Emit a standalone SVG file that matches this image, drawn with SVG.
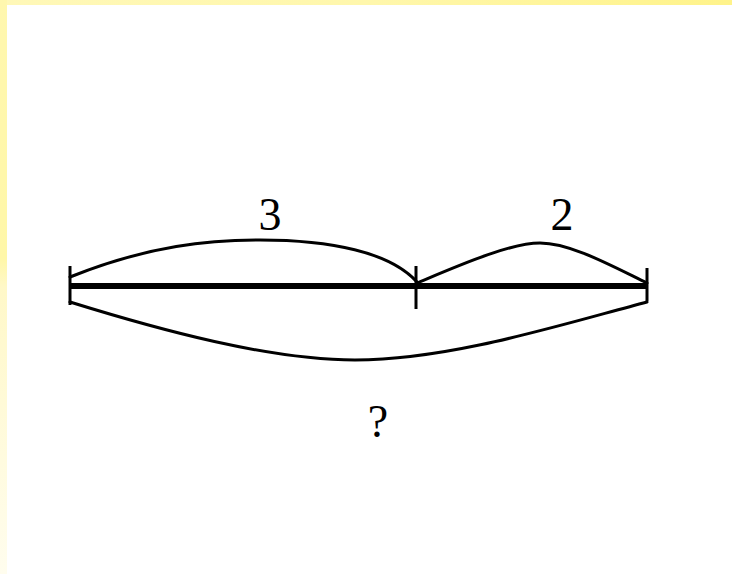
<svg xmlns="http://www.w3.org/2000/svg" width="732" height="574" viewBox="0 0 732 574">
<defs>
<linearGradient id="gTop" x1="0" y1="0" x2="1" y2="0">
<stop offset="0" stop-color="#FFF8B8"/>
<stop offset="0.5" stop-color="#FFF7AC"/>
<stop offset="1" stop-color="#FFF38A"/>
</linearGradient>
<linearGradient id="gLeft" x1="0" y1="0" x2="0" y2="1">
<stop offset="0" stop-color="#FFF7AE"/>
<stop offset="0.45" stop-color="#FFF7A8"/>
<stop offset="0.5" stop-color="#FFF8C8"/>
<stop offset="1" stop-color="#FFFDEE"/>
</linearGradient>
<style>
.arc{fill:none;stroke:#000;stroke-width:3;stroke-linecap:round}
.tick{stroke:#000;stroke-width:3}
.lbl{font-family:"Liberation Serif","DejaVu Serif",serif;font-size:46px;fill:#000;text-anchor:middle}
</style>
</defs>
<rect width="732" height="574" fill="#fff"/>
<rect x="0" y="0" width="732" height="5" fill="url(#gTop)"/>
<rect x="0" y="0" width="7" height="574" fill="url(#gLeft)"/>
<g id="connectors">
<line x1="70" y1="286" x2="648" y2="286" stroke="#000" stroke-width="6"/>
<path class="arc" d="M70,277 C150,245 210,240 260,240 C330,240 390,252 417,282"/>
<path class="arc" d="M417,283 C460,265 510,243 540,243 C570,243 610,265 647,283"/>
<path class="arc" d="M70,302 C160,330 270,360 355,360 C450,360 560,325 647,302"/>
</g>
<g id="ticks">
<line class="tick" x1="70" y1="266" x2="70" y2="305"/>
<line class="tick" x1="416" y1="266" x2="416" y2="309"/>
<line class="tick" x1="647" y1="268" x2="647" y2="301"/>
</g>
<g id="label-3"><text class="lbl" x="270" y="230">3</text></g>
<g id="label-2"><text class="lbl" x="562" y="230">2</text></g>
<g id="label-q"><text class="lbl" x="378" y="437">?</text></g>
</svg>
